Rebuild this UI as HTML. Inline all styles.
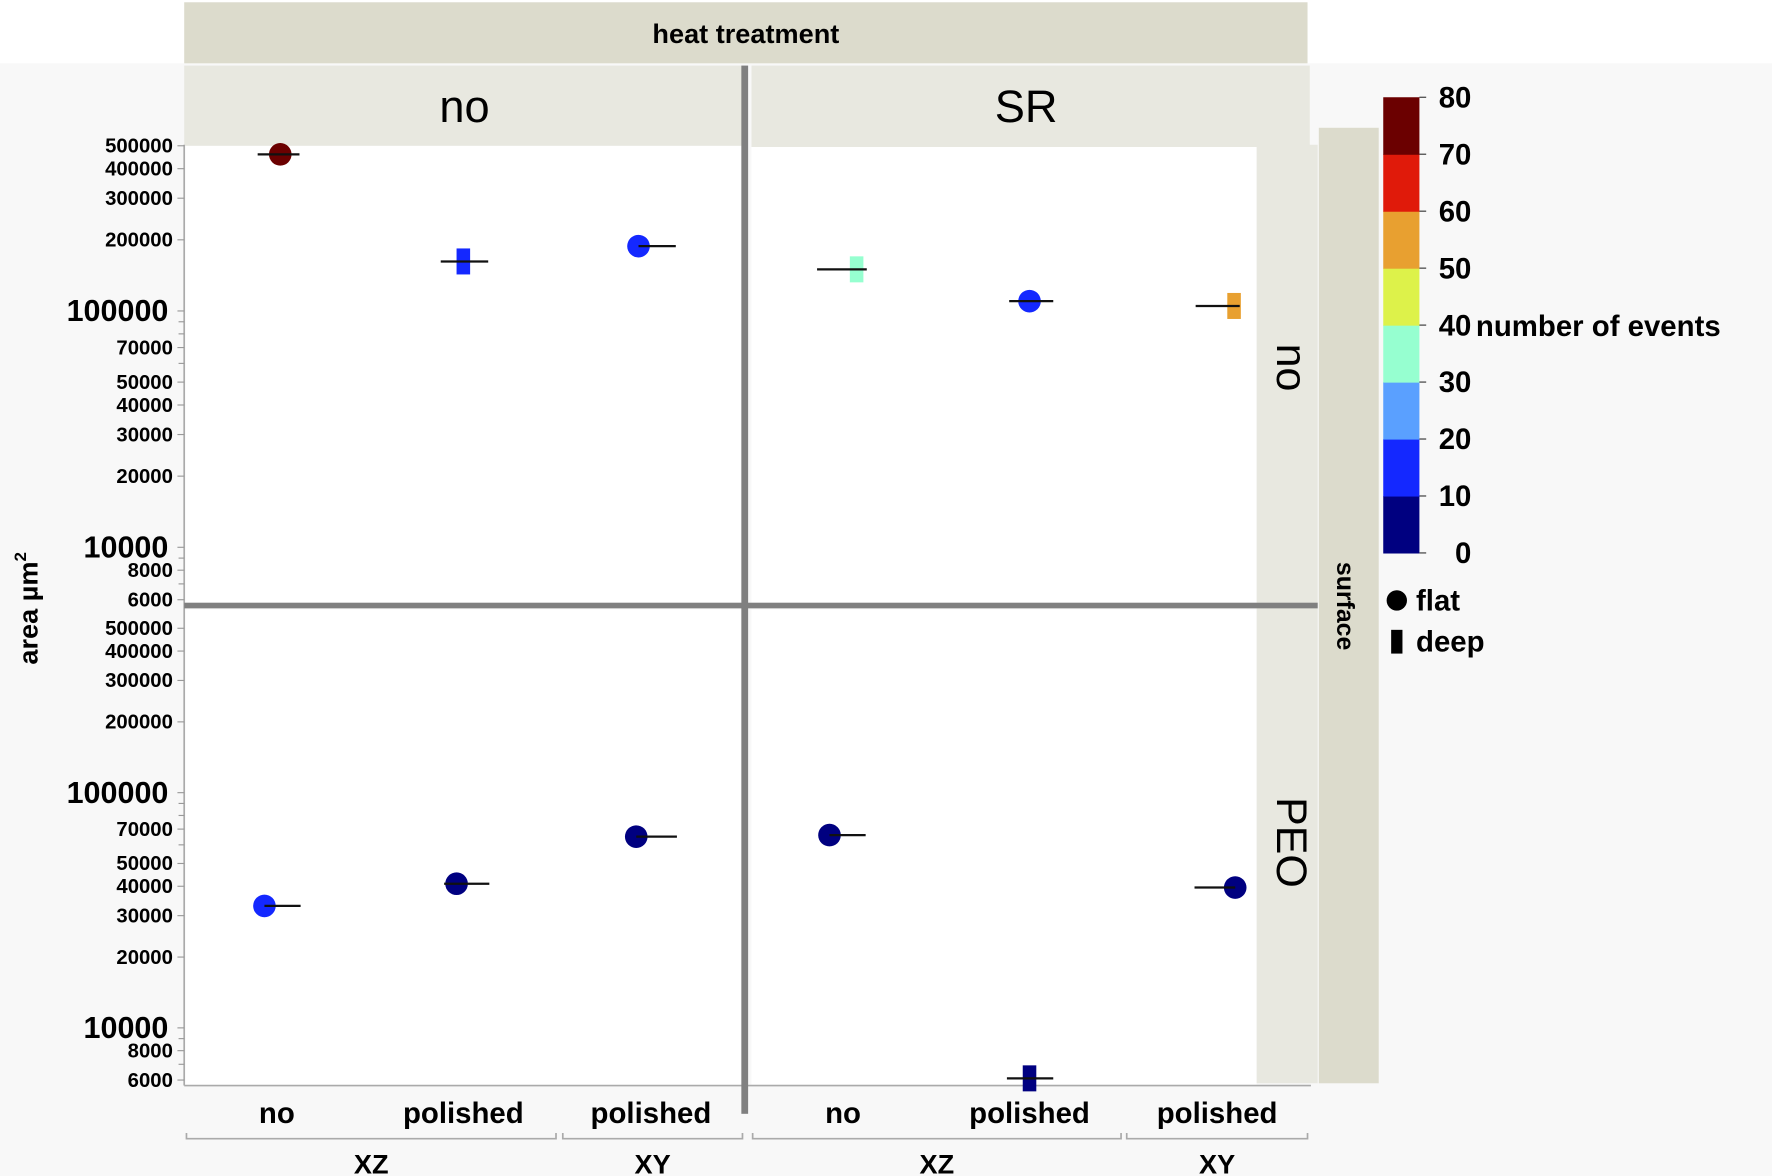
<!DOCTYPE html>
<html><head><meta charset="utf-8"><style>
html,body{margin:0;padding:0;background:#fff}
svg{display:block}
text{font-family:"Liberation Sans","DejaVu Sans",sans-serif}
</style></head><body>
<svg id="chart" width="1772" height="1176" viewBox="0 0 1568 1040" preserveAspectRatio="none" xmlns="http://www.w3.org/2000/svg">
<rect x="0" y="0" width="1568" height="1040" fill="#fff"/>
<rect x="0" y="56" width="1568" height="984" fill="#f8f8f8"/>
<rect x="163" y="2" width="994" height="54" fill="#dcdbcc"/>
<text x="660" y="38" text-anchor="middle" font-size="24" font-weight="bold">heat treatment</text>
<rect x="163" y="58" width="496" height="71" fill="#e8e8e0"/>
<rect x="665" y="58" width="494" height="72" fill="#e8e8e0"/>
<text x="411" y="108" text-anchor="middle" font-size="40">no</text>
<text x="908" y="108" text-anchor="middle" font-size="40">SR</text>
<rect x="163" y="129" width="496" height="405" fill="#fff"/>
<rect x="665" y="130" width="447" height="404" fill="#fff"/>
<rect x="163" y="539" width="496" height="421" fill="#fff"/>
<rect x="665" y="539" width="447" height="420" fill="#fff"/>
<rect x="1112" y="128" width="54" height="830" fill="#e8e8e0"/>
<text transform="translate(1130,325) rotate(90)" text-anchor="middle" font-size="38">no</text>
<text transform="translate(1130,745) rotate(90)" text-anchor="middle" font-size="38">PEO</text>
<rect x="1167" y="113" width="53" height="845" fill="#dcdbcc"/>
<text transform="translate(1183,536) rotate(90)" text-anchor="middle" font-size="22" font-weight="bold">surface</text>
<line x1="163" y1="128" x2="163" y2="960" stroke="#aaa" stroke-width="1.5"/>
<line x1="163" y1="960" x2="1160" y2="960" stroke="#aaa" stroke-width="1.5"/>
<rect x="656" y="58" width="6" height="927" fill="#808080"/>
<rect x="163" y="533" width="1003" height="5" fill="#808080"/>
<text transform="translate(33,538) rotate(-90)" text-anchor="middle" font-size="24" font-weight="bold">area µm<tspan dy="-10" font-size="15">2</tspan></text>
<g id="axes"></g>
<g id="marks"></g>
<g id="xlabels"></g>
<g id="colorbar"></g>
<g>
<circle cx="1236" cy="531" r="9" fill="#000"/>
<text x="1253" y="540" font-size="26" font-weight="bold">flat</text>
<rect x="1231" y="557" width="10" height="21" fill="#000"/>
<text x="1253" y="576" font-size="26" font-weight="bold">deep</text>
</g>
</svg>
<script>
const NS="http://www.w3.org/2000/svg";
const tickValues=[500000,400000,300000,200000,100000,70000,50000,40000,30000,20000,10000,8000,6000];
const tickLabels=["500000","400000","300000","200000","100000","70000","50000","40000","30000","20000","10000","8000","6000"];
const minorTicks=[90000,80000,60000,9000,7000];
const categories=["no","polished","polished","no","polished","polished"];
const groups=["XZ","XY","XZ","XY"];
const pointCat=[0,1,2,3,4,5,0,1,2,3,4,5];
const pointRow=[0,0,0,0,0,0,1,1,1,1,1,1];
const areaValues=[460000,162000,188000,150000,110000,105000,33000,41000,65000,66000,6100,39500];
const eventCounts=[75,15,15,35,15,55,15,5,5,5,5,5];
const shapes=["flat","deep","flat","deep","flat","deep","flat","flat","flat","flat","deep","flat"];
const jitter=[3,0,-11,12,0,15,-11,-6,-13,-12,0,16];
const lineLeft=[-20,-20,0,-35,-18,-34,0,-11,0,0,-20,-36];
const lineRight=[17,22,33,9,21,5,32,29,36,32,21,0];
const bandColors=["#000080","#1428ff","#5aa0ff","#96ffd0","#ddf24a","#e8a030","#e01a0a","#6b0000"];
const cbLabels=["0","10","20","30","40","50","60","70","80"];
const catX=[245,410,576,746,911,1077];
function yScale(v,row){return row===0?275-209*(Math.log10(v)-5):701-208*(Math.log10(v)-5);}
function colorFor(n){return bandColors[Math.min(7,Math.floor(n/10))];}
const axes=document.getElementById('axes');
for(let row=0;row<2;row++){
  tickValues.forEach((v,i)=>{
    const y=yScale(v,row);
    const big=(v===100000||v===10000);
    const t=document.createElementNS(NS,'text');
    
    
    t.setAttribute('x',big?149:153);t.setAttribute('y',y+(big?9:6));
    t.setAttribute('text-anchor','end');t.setAttribute('font-size',big?27:18);t.setAttribute('font-weight','bold');
    t.textContent=tickLabels[i];axes.appendChild(t);
    const l=document.createElementNS(NS,'line');
    
    
    l.setAttribute('x1',157);l.setAttribute('x2',163);l.setAttribute('y1',y);l.setAttribute('y2',y);l.setAttribute('stroke','#999');
    axes.appendChild(l);
  });
  minorTicks.forEach(v=>{
    const y=yScale(v,row);
    const l=document.createElementNS(NS,'line');
    
    
    l.setAttribute('x1',158);l.setAttribute('x2',163);l.setAttribute('y1',y);l.setAttribute('y2',y);l.setAttribute('stroke','#999');
    axes.appendChild(l);
  });
}
const marks=document.getElementById('marks');
areaValues.forEach((v,i)=>{
  const x=catX[pointCat[i]]+jitter[i],y=yScale(v,pointRow[i]);
  const c=colorFor(eventCounts[i]);
  let m;
  if(shapes[i]==='flat'){
    m=document.createElementNS(NS,'circle');
    m.setAttribute('cx',x);m.setAttribute('cy',y);m.setAttribute('r',10);
  }else{
    m=document.createElementNS(NS,'rect');
    m.setAttribute('x',x-6);m.setAttribute('y',y-11.5);m.setAttribute('width',12);m.setAttribute('height',23);
  }
  
  
  m.setAttribute('fill',c);
  marks.appendChild(m);
  const l=document.createElementNS(NS,'line');
  
  
  l.setAttribute('x1',x+lineLeft[i]);l.setAttribute('x2',x+lineRight[i]);l.setAttribute('y1',y);l.setAttribute('y2',y);
  l.setAttribute('stroke','#111');l.setAttribute('stroke-width',2);
  marks.appendChild(l);
});
const xl=document.getElementById('xlabels');
categories.forEach((c,i)=>{
  const t=document.createElementNS(NS,'text');
  
  
  t.setAttribute('x',catX[i]);t.setAttribute('y',993);t.setAttribute('text-anchor','middle');
  t.setAttribute('font-size',26);t.setAttribute('font-weight','bold');t.textContent=c;xl.appendChild(t);
});
const groupSpans=[[165,492],[498,657],[666,992],[997,1157]];
groups.forEach((g,i)=>{
  const [a,b]=groupSpans[i];
  const p=document.createElementNS(NS,'path');
  
  
  p.setAttribute('d',`M${a},1002 V1007 H${b} V1002`);p.setAttribute('fill','none');p.setAttribute('stroke','#aaa');p.setAttribute('stroke-width',1.5);
  xl.appendChild(p);
  const t=document.createElementNS(NS,'text');
  
  
  t.setAttribute('x',(a+b)/2);t.setAttribute('y',1038);t.setAttribute('text-anchor','middle');
  t.setAttribute('font-size',24);t.setAttribute('font-weight','bold');t.textContent=g;xl.appendChild(t);
});
const cb=document.getElementById('colorbar');
const cbTop=86,cbBottom=489,bandH=(cbBottom-cbTop)/8;
bandColors.forEach((c,i)=>{
  const r=document.createElementNS(NS,'rect');
  
  
  r.setAttribute('x',1224);r.setAttribute('y',cbBottom-(i+1)*bandH);r.setAttribute('width',32);r.setAttribute('height',bandH+0.5);r.setAttribute('fill',c);
  cb.appendChild(r);
});
cbLabels.forEach((s,i)=>{
  const y=cbBottom-i*bandH;
  const l=document.createElementNS(NS,'line');
  
  
  l.setAttribute('x1',1256);l.setAttribute('x2',1262);l.setAttribute('y1',y);l.setAttribute('y2',y);l.setAttribute('stroke','#333');
  cb.appendChild(l);
  const t=document.createElementNS(NS,'text');
  
  
  t.setAttribute('x',1302);t.setAttribute('y',y+9);t.setAttribute('text-anchor','end');
  t.setAttribute('font-size',26);t.setAttribute('font-weight','bold');t.textContent=s;cb.appendChild(t);
});
const ct=document.createElementNS(NS,'text');


ct.setAttribute('x',1306);ct.setAttribute('y',297);ct.setAttribute('font-size',26);ct.setAttribute('font-weight','bold');
ct.textContent='number of events';cb.appendChild(ct);
</script>
</body></html>
